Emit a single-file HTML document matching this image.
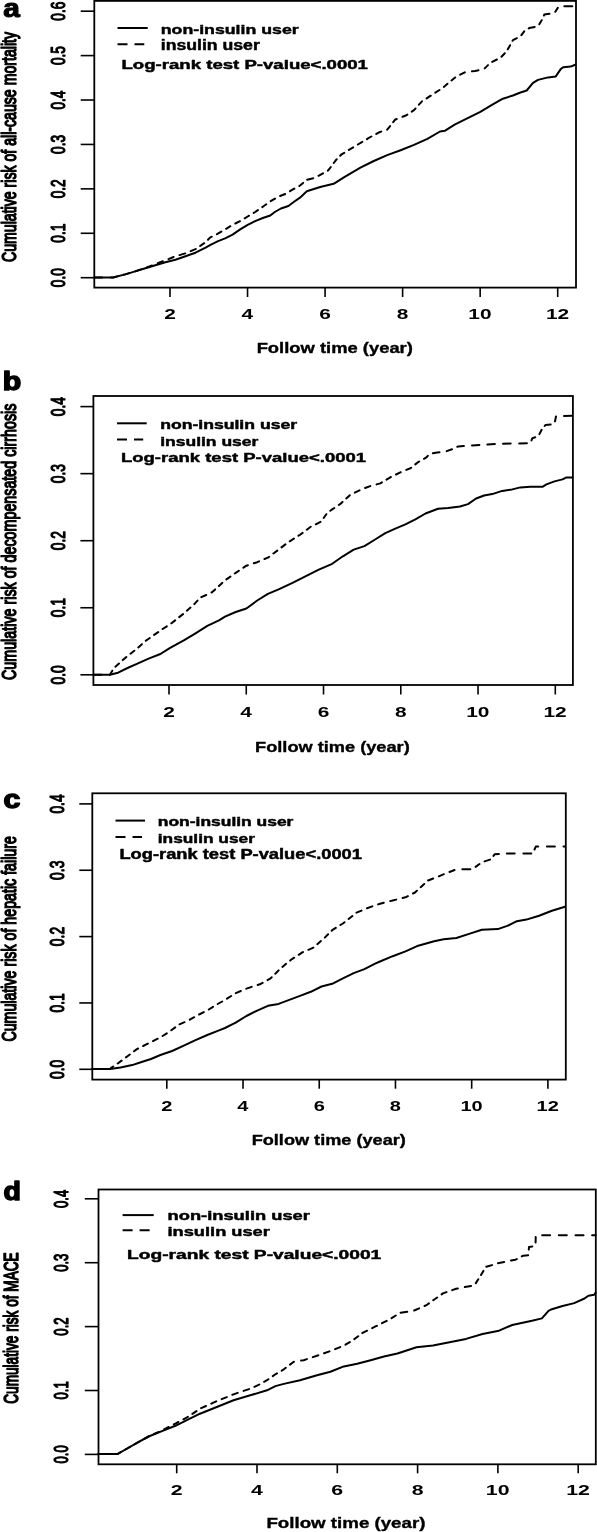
<!DOCTYPE html>
<html><head><meta charset="utf-8"><title>Cumulative risk curves</title>
<style>html,body{margin:0;padding:0;background:#fff;}svg{display:block;}
text{font-family:"Liberation Sans", Arial, Helvetica, sans-serif;fill:#000;}</style></head>
<body><svg width="597" height="1532" viewBox="0 0 597 1532">
<rect x="0" y="0" width="597" height="1532" fill="#fff"/>
<rect x="94.3" y="0.9" width="481.70" height="286.70" fill="none" stroke="#000" stroke-width="1.8"/>
<line stroke="#000" x1="80.70" y1="277.70" x2="94.30" y2="277.70" stroke-width="1.6"/>
<text transform="translate(64.59,287.22) scale(1.4460,1) rotate(-90)" font-size="13.70" style="font-weight:normal;stroke:#000;stroke-width:0.85px;stroke-linejoin:round;">0.0</text>
<line stroke="#000" x1="80.70" y1="233.28" x2="94.30" y2="233.28" stroke-width="1.6"/>
<text transform="translate(64.59,242.73) scale(1.4460,1) rotate(-90)" font-size="13.70" style="font-weight:normal;stroke:#000;stroke-width:0.85px;stroke-linejoin:round;">0.1</text>
<line stroke="#000" x1="80.70" y1="188.86" x2="94.30" y2="188.86" stroke-width="1.6"/>
<text transform="translate(64.59,198.31) scale(1.4460,1) rotate(-90)" font-size="13.70" style="font-weight:normal;stroke:#000;stroke-width:0.85px;stroke-linejoin:round;">0.2</text>
<line stroke="#000" x1="80.70" y1="144.44" x2="94.30" y2="144.44" stroke-width="1.6"/>
<text transform="translate(64.59,153.96) scale(1.4460,1) rotate(-90)" font-size="13.70" style="font-weight:normal;stroke:#000;stroke-width:0.85px;stroke-linejoin:round;">0.3</text>
<line stroke="#000" x1="80.70" y1="100.02" x2="94.30" y2="100.02" stroke-width="1.6"/>
<text transform="translate(64.59,109.61) scale(1.4460,1) rotate(-90)" font-size="13.70" style="font-weight:normal;stroke:#000;stroke-width:0.85px;stroke-linejoin:round;">0.4</text>
<line stroke="#000" x1="80.70" y1="55.60" x2="94.30" y2="55.60" stroke-width="1.6"/>
<text transform="translate(64.59,65.12) scale(1.4460,1) rotate(-90)" font-size="13.70" style="font-weight:normal;stroke:#000;stroke-width:0.85px;stroke-linejoin:round;">0.5</text>
<line stroke="#000" x1="80.70" y1="11.18" x2="94.30" y2="11.18" stroke-width="1.6"/>
<text transform="translate(64.59,20.70) scale(1.4460,1) rotate(-90)" font-size="13.70" style="font-weight:normal;stroke:#000;stroke-width:0.85px;stroke-linejoin:round;">0.6</text>
<line stroke="#000" x1="170.00" y1="287.60" x2="170.00" y2="297.00" stroke-width="1.6"/>
<text transform="translate(164.25,318.80) scale(1.3541,1)" font-size="15.43" style="font-weight:bold;">2</text>
<line stroke="#000" x1="247.54" y1="287.60" x2="247.54" y2="297.00" stroke-width="1.6"/>
<text transform="translate(241.59,318.80) scale(1.3541,1)" font-size="15.43" style="font-weight:bold;">4</text>
<line stroke="#000" x1="325.08" y1="287.60" x2="325.08" y2="297.00" stroke-width="1.6"/>
<text transform="translate(319.23,318.80) scale(1.3541,1)" font-size="15.43" style="font-weight:bold;">6</text>
<line stroke="#000" x1="402.62" y1="287.60" x2="402.62" y2="297.00" stroke-width="1.6"/>
<text transform="translate(396.77,318.80) scale(1.3541,1)" font-size="15.43" style="font-weight:bold;">8</text>
<line stroke="#000" x1="480.16" y1="287.60" x2="480.16" y2="297.00" stroke-width="1.6"/>
<text transform="translate(468.36,318.80) scale(1.3541,1)" font-size="15.43" style="font-weight:bold;">10</text>
<line stroke="#000" x1="557.70" y1="287.60" x2="557.70" y2="297.00" stroke-width="1.6"/>
<text transform="translate(545.90,318.80) scale(1.3541,1)" font-size="15.43" style="font-weight:bold;">12</text>
<text transform="translate(15.91,262.01) scale(1.3865,1) rotate(-90)" font-size="14.14" style="font-weight:normal;stroke:#000;stroke-width:1.00px;stroke-linejoin:round;">Cumulative risk of all-cause mortality</text>
<text transform="translate(256.64,353.38) scale(1.2781,1)" font-size="14.38" style="font-weight:bold;stroke:#000;stroke-width:0.35px;stroke-linejoin:round;">Follow time (year)</text>
<line stroke="#000" x1="117.50" y1="28.00" x2="147.70" y2="28.00" stroke-width="2.0"/>
<line stroke="#000" x1="117.50" y1="44.30" x2="144.30" y2="44.30" stroke-width="2.0" stroke-dasharray="10 7"/>
<text transform="translate(160.75,33.52) scale(1.3090,1)" font-size="13.56" style="font-weight:bold;stroke:#000;stroke-width:0.45px;stroke-linejoin:round;">non-insulin user</text>
<text transform="translate(160.75,50.38) scale(1.2587,1)" font-size="14.04" style="font-weight:bold;stroke:#000;stroke-width:0.45px;stroke-linejoin:round;">insulin user</text>
<text transform="translate(121.51,68.68) scale(1.4081,1)" font-size="13.22" style="font-weight:bold;stroke:#000;stroke-width:0.45px;stroke-linejoin:round;">Log-rank test P-value&lt;.0001</text>
<text transform="translate(3.24,16.75) scale(1.1599,1)" font-size="25.74" style="font-weight:bold;stroke:#000;stroke-width:1.10px;stroke-linejoin:round;">a</text>
<path stroke="#000" d="M94.3,277.5 L113.0,277.5 L125.2,274.4 L135.2,271.4 L145.3,268.3 L155.3,265.3 L165.4,262.3 L175.4,259.7 L185.5,256.3 L195.5,252.7 L205.6,247.6 L210.0,245.2 L217.5,241.4 L225.1,238.4 L232.6,234.6 L240.2,229.4 L247.7,224.8 L255.2,221.1 L262.8,218.0 L270.3,215.5 L274.8,212.0 L280.9,208.5 L288.4,206.0 L294.4,201.5 L300.0,197.7 L306.8,191.3 L320.2,187.0 L333.6,183.8 L344.3,177.1 L360.4,167.7 L373.8,161.0 L387.2,155.1 L400.6,150.3 L414.0,144.9 L427.4,138.8 L440.0,131.5 L445.1,130.7 L455.1,124.4 L467.7,118.1 L480.3,111.8 L492.8,104.3 L502.9,98.7 L512.9,95.5 L520.5,92.5 L526.7,90.5 L533.0,82.9 L538.0,79.9 L548.1,77.4 L555.6,76.6 L560.7,69.1 L563.2,67.3 L570.7,66.6 L575.2,64.8" fill="none" stroke-width="2.0" stroke-linejoin="round" stroke-linecap="round"/>
<path stroke="#000" d="M94.3,277.5 L102.3,277.5 M111.0,277.5 L113.0,277.5 L117.4,276.4 M123.7,274.7 L125.0,274.4 L129.4,273.1 M135.5,271.2 L141.0,269.4 M146.8,267.4 L152.1,265.5 M157.8,263.3 L162.9,261.3 M168.5,259.1 L173.6,257.0 M179.5,255.1 L185.2,253.4 M190.7,251.2 L195.5,249.2 L195.7,249.0 M200.1,246.0 L204.2,243.2 M208.0,239.7 L210.0,237.6 L211.8,236.7 M216.9,234.2 L217.5,233.9 L221.3,231.6 M226.1,228.8 L230.4,226.2 M235.3,223.5 L240.0,221.2 M244.7,218.3 L247.7,216.5 L249.0,215.7 M253.7,212.9 L255.2,212.0 L257.9,210.1 M262.3,207.1 L262.8,206.7 L266.3,204.3 M270.7,201.2 L275.0,198.6 M280.1,196.0 L285.2,194.0 M290.0,191.2 L292.9,189.4 L294.4,188.6 M299.3,186.0 L300.0,185.6 L303.1,182.9 M307.2,179.7 L313.2,178.3 M318.5,175.8 L323.0,173.3 M327.8,170.6 L328.2,170.4 L330.8,167.0 M333.8,163.0 L336.3,159.7 L336.7,159.3 M340.2,155.7 L341.6,154.3 L344.2,152.8 M348.9,149.9 L353.2,147.4 M357.9,144.5 L362.3,141.9 M367.0,139.1 L368.4,138.2 L371.4,136.5 M376.3,133.9 L379.2,132.3 L381.2,131.6 M387.2,129.7 L387.2,129.7 L390.1,126.1 M393.2,122.1 L395.3,119.5 L396.8,119.0 M402.5,116.8 L406.0,115.5 L407.3,114.6 M411.8,111.6 L414.0,110.1 L415.5,108.5 M418.9,104.7 L422.0,101.3 L422.0,101.3 M426.6,98.4 L430.0,96.2 L430.8,95.7 M435.3,92.7 L439.5,90.0 M443.8,86.9 L447.5,83.8 M451.5,80.4 L455.1,77.4 L455.2,77.4 M460.2,74.7 L464.8,72.3 M472.0,71.3 L475.2,70.9 L478.5,70.2 M484.7,68.4 L488.0,65.1 M492.2,61.9 L496.9,59.5 M501.5,56.7 L504.8,53.3 M507.8,49.3 L510.1,45.2 M512.6,40.8 L512.9,40.2 L516.9,38.2 M521.4,35.2 L524.2,31.4 M528.7,28.5 L529.2,28.1 L534.7,27.0 M539.3,24.2 L541.7,20.2 M543.9,15.5 L544.3,14.6 L549.5,13.8 M555.3,11.8 L557.8,7.9 M564.3,6.3 L572.3,6.3" fill="none" stroke-width="2.0" stroke-linejoin="round" stroke-linecap="round"/>
<rect x="93.4" y="396.0" width="479.50" height="289.00" fill="none" stroke="#000" stroke-width="1.8"/>
<line stroke="#000" x1="80.40" y1="674.80" x2="93.40" y2="674.80" stroke-width="1.6"/>
<text transform="translate(64.50,684.43) scale(1.4219,1) rotate(-90)" font-size="13.85" style="font-weight:normal;stroke:#000;stroke-width:0.85px;stroke-linejoin:round;">0.0</text>
<line stroke="#000" x1="80.40" y1="607.75" x2="93.40" y2="607.75" stroke-width="1.6"/>
<text transform="translate(64.50,617.31) scale(1.4219,1) rotate(-90)" font-size="13.85" style="font-weight:normal;stroke:#000;stroke-width:0.85px;stroke-linejoin:round;">0.1</text>
<line stroke="#000" x1="80.40" y1="540.70" x2="93.40" y2="540.70" stroke-width="1.6"/>
<text transform="translate(64.50,550.26) scale(1.4219,1) rotate(-90)" font-size="13.85" style="font-weight:normal;stroke:#000;stroke-width:0.85px;stroke-linejoin:round;">0.2</text>
<line stroke="#000" x1="80.40" y1="473.65" x2="93.40" y2="473.65" stroke-width="1.6"/>
<text transform="translate(64.50,483.28) scale(1.4219,1) rotate(-90)" font-size="13.85" style="font-weight:normal;stroke:#000;stroke-width:0.85px;stroke-linejoin:round;">0.3</text>
<line stroke="#000" x1="80.40" y1="406.60" x2="93.40" y2="406.60" stroke-width="1.6"/>
<text transform="translate(64.50,416.30) scale(1.4219,1) rotate(-90)" font-size="13.85" style="font-weight:normal;stroke:#000;stroke-width:0.85px;stroke-linejoin:round;">0.4</text>
<line stroke="#000" x1="169.00" y1="685.00" x2="169.00" y2="694.50" stroke-width="1.6"/>
<text transform="translate(163.25,716.80) scale(1.3927,1)" font-size="15.00" style="font-weight:bold;">2</text>
<line stroke="#000" x1="246.26" y1="685.00" x2="246.26" y2="694.50" stroke-width="1.6"/>
<text transform="translate(240.31,716.80) scale(1.3927,1)" font-size="15.00" style="font-weight:bold;">4</text>
<line stroke="#000" x1="323.52" y1="685.00" x2="323.52" y2="694.50" stroke-width="1.6"/>
<text transform="translate(317.67,716.80) scale(1.3927,1)" font-size="15.00" style="font-weight:bold;">6</text>
<line stroke="#000" x1="400.78" y1="685.00" x2="400.78" y2="694.50" stroke-width="1.6"/>
<text transform="translate(394.93,716.80) scale(1.3927,1)" font-size="15.00" style="font-weight:bold;">8</text>
<line stroke="#000" x1="478.04" y1="685.00" x2="478.04" y2="694.50" stroke-width="1.6"/>
<text transform="translate(466.24,716.80) scale(1.3927,1)" font-size="15.00" style="font-weight:bold;">10</text>
<line stroke="#000" x1="555.30" y1="685.00" x2="555.30" y2="694.50" stroke-width="1.6"/>
<text transform="translate(543.50,716.80) scale(1.3927,1)" font-size="15.00" style="font-weight:bold;">12</text>
<text transform="translate(15.91,680.02) scale(1.3716,1) rotate(-90)" font-size="14.31" style="font-weight:normal;stroke:#000;stroke-width:1.00px;stroke-linejoin:round;">Cumulative risk of decompensated cirrhosis</text>
<text transform="translate(255.04,751.62) scale(1.2371,1)" font-size="14.73" style="font-weight:bold;stroke:#000;stroke-width:0.35px;stroke-linejoin:round;">Follow time (year)</text>
<line stroke="#000" x1="117.00" y1="423.30" x2="146.70" y2="423.30" stroke-width="2.0"/>
<line stroke="#000" x1="117.00" y1="439.60" x2="143.20" y2="439.60" stroke-width="2.0" stroke-dasharray="10 7"/>
<text transform="translate(160.18,428.97) scale(1.3903,1)" font-size="12.67" style="font-weight:bold;stroke:#000;stroke-width:0.45px;stroke-linejoin:round;">non-insulin user</text>
<text transform="translate(160.17,445.77) scale(1.3242,1)" font-size="13.22" style="font-weight:bold;stroke:#000;stroke-width:0.45px;stroke-linejoin:round;">insulin user</text>
<text transform="translate(120.91,462.47) scale(1.3723,1)" font-size="13.49" style="font-weight:bold;stroke:#000;stroke-width:0.45px;stroke-linejoin:round;">Log-rank test P-value&lt;.0001</text>
<text transform="translate(2.77,390.35) scale(1.1866,1)" font-size="25.48" style="font-weight:bold;stroke:#000;stroke-width:1.50px;stroke-linejoin:round;">b</text>
<path stroke="#000" d="M93.4,674.8 L109.9,674.8 L118.1,672.7 L127.5,668.0 L136.9,663.8 L148.6,658.6 L160.4,654.0 L169.7,648.1 L183.8,640.4 L195.5,633.3 L207.3,625.8 L219.0,620.4 L225.0,616.6 L235.7,612.0 L246.4,608.5 L257.2,600.5 L267.9,593.8 L278.6,589.3 L292.0,583.1 L305.4,576.4 L318.8,569.7 L332.2,563.8 L342.9,556.3 L353.7,549.6 L364.4,546.1 L375.1,539.5 L385.3,533.1 L395.3,528.6 L405.4,524.3 L415.4,519.3 L425.5,513.5 L438.0,508.7 L448.1,508.0 L458.1,506.7 L460.0,506.5 L468.0,504.1 L476.1,498.5 L484.1,495.5 L492.2,494.1 L502.2,490.9 L512.3,489.4 L520.3,487.4 L530.4,486.8 L542.4,486.8 L546.4,484.4 L554.5,481.4 L562.5,479.4 L566.5,477.4 L572.6,477.4" fill="none" stroke-width="2.0" stroke-linejoin="round" stroke-linecap="round"/>
<path stroke="#000" d="M93.4,674.8 L101.4,674.8 M109.9,674.7 L112.3,670.7 M115.4,666.7 L119.0,663.6 M122.8,660.1 L125.2,657.9 L126.4,657.0 M130.5,653.7 L134.3,650.7 M138.3,647.4 L141.9,644.2 M145.8,640.8 L146.3,640.4 L149.8,638.0 M154.1,634.9 L158.2,632.1 M162.6,629.0 L166.8,626.3 M171.3,623.3 L172.1,622.8 L175.1,620.4 M179.2,617.1 L183.0,614.1 M186.9,610.7 L190.5,607.6 M194.3,604.1 L197.5,600.6 M201.3,597.2 L206.2,595.0 M211.5,592.5 L212.0,592.3 L215.1,589.4 M218.9,586.0 L222.4,582.8 M226.4,579.4 L230.4,576.6 M234.8,573.5 L235.7,572.9 L238.9,570.7 M243.4,567.7 L246.4,565.7 L247.9,565.2 M253.8,563.3 L257.2,562.2 L259.1,561.4 M264.5,559.0 L267.9,557.6 L269.2,556.7 M273.4,553.5 L277.3,550.6 M281.5,547.4 L285.4,544.4 M289.7,541.3 L293.9,538.6 M298.5,535.7 L300.0,534.8 L302.6,532.9 M306.8,529.7 L310.7,526.8 M315.8,524.3 L320.5,521.9 M323.7,518.0 L326.3,514.2 M330.3,510.8 L332.2,509.4 L334.3,508.0 M338.8,505.0 L340.0,504.2 L342.5,501.9 M346.3,498.4 L349.8,495.2 M354.8,492.6 L359.5,490.3 M365.1,488.0 L370.2,486.1 L370.3,486.1 M376.6,484.4 L380.3,483.4 L381.9,482.4 M386.5,479.6 L390.3,477.3 L390.9,477.0 M396.0,474.5 L400.4,472.3 L400.8,472.2 M406.3,469.9 L410.4,468.3 L411.2,467.7 M415.3,464.4 L417.9,462.3 L419.2,461.5 M424.0,458.8 L426.7,457.2 L427.8,455.8 M432.9,453.2 L435.5,452.7 L439.5,452.2 M446.7,451.1 L452.0,449.3 M457.3,446.8 L458.1,446.4 L463.9,445.9 M472.0,445.4 L479.4,445.0 M487.4,444.6 L494.8,444.1 M503.0,443.7 L510.7,443.6 M519.2,443.4 L526.9,443.3 M531.5,440.4 L532.4,438.2 L535.2,437.3 M539.4,434.1 L541.4,430.2 L541.6,429.9 M544.7,426.0 L545.4,425.1 L550.7,424.5 M555.0,421.4 L556.0,416.5 M564.0,415.9 L571.7,415.7" fill="none" stroke-width="2.0" stroke-linejoin="round" stroke-linecap="round"/>
<rect x="92.3" y="793.3" width="473.50" height="286.30" fill="none" stroke="#000" stroke-width="1.8"/>
<line stroke="#000" x1="79.30" y1="1069.30" x2="92.30" y2="1069.30" stroke-width="1.6"/>
<text transform="translate(63.88,1078.93) scale(1.4693,1) rotate(-90)" font-size="13.85" style="font-weight:normal;stroke:#000;stroke-width:0.85px;stroke-linejoin:round;">0.0</text>
<line stroke="#000" x1="79.30" y1="1002.95" x2="92.30" y2="1002.95" stroke-width="1.6"/>
<text transform="translate(63.88,1012.51) scale(1.4693,1) rotate(-90)" font-size="13.85" style="font-weight:normal;stroke:#000;stroke-width:0.85px;stroke-linejoin:round;">0.1</text>
<line stroke="#000" x1="79.30" y1="936.60" x2="92.30" y2="936.60" stroke-width="1.6"/>
<text transform="translate(63.88,946.16) scale(1.4693,1) rotate(-90)" font-size="13.85" style="font-weight:normal;stroke:#000;stroke-width:0.85px;stroke-linejoin:round;">0.2</text>
<line stroke="#000" x1="79.30" y1="870.25" x2="92.30" y2="870.25" stroke-width="1.6"/>
<text transform="translate(63.88,879.88) scale(1.4693,1) rotate(-90)" font-size="13.85" style="font-weight:normal;stroke:#000;stroke-width:0.85px;stroke-linejoin:round;">0.3</text>
<line stroke="#000" x1="79.30" y1="803.90" x2="92.30" y2="803.90" stroke-width="1.6"/>
<text transform="translate(63.88,813.60) scale(1.4693,1) rotate(-90)" font-size="13.85" style="font-weight:normal;stroke:#000;stroke-width:0.85px;stroke-linejoin:round;">0.4</text>
<line stroke="#000" x1="166.80" y1="1079.60" x2="166.80" y2="1088.70" stroke-width="1.6"/>
<text transform="translate(161.30,1111.00) scale(1.3333,1)" font-size="15.00" style="font-weight:bold;">2</text>
<line stroke="#000" x1="243.02" y1="1079.60" x2="243.02" y2="1088.70" stroke-width="1.6"/>
<text transform="translate(237.32,1111.00) scale(1.3333,1)" font-size="15.00" style="font-weight:bold;">4</text>
<line stroke="#000" x1="319.24" y1="1079.60" x2="319.24" y2="1088.70" stroke-width="1.6"/>
<text transform="translate(313.64,1111.00) scale(1.3333,1)" font-size="15.00" style="font-weight:bold;">6</text>
<line stroke="#000" x1="395.46" y1="1079.60" x2="395.46" y2="1088.70" stroke-width="1.6"/>
<text transform="translate(389.86,1111.00) scale(1.3333,1)" font-size="15.00" style="font-weight:bold;">8</text>
<line stroke="#000" x1="471.68" y1="1079.60" x2="471.68" y2="1088.70" stroke-width="1.6"/>
<text transform="translate(460.38,1111.00) scale(1.3333,1)" font-size="15.00" style="font-weight:bold;">10</text>
<line stroke="#000" x1="547.90" y1="1079.60" x2="547.90" y2="1088.70" stroke-width="1.6"/>
<text transform="translate(536.60,1111.00) scale(1.3333,1)" font-size="15.00" style="font-weight:bold;">12</text>
<text transform="translate(15.90,1041.61) scale(1.3957,1) rotate(-90)" font-size="14.23" style="font-weight:normal;stroke:#000;stroke-width:1.00px;stroke-linejoin:round;">Cumulative risk of hepatic failure</text>
<text transform="translate(251.65,1144.92) scale(1.2438,1)" font-size="14.59" style="font-weight:bold;stroke:#000;stroke-width:0.35px;stroke-linejoin:round;">Follow time (year)</text>
<line stroke="#000" x1="115.50" y1="820.60" x2="145.00" y2="820.60" stroke-width="2.0"/>
<line stroke="#000" x1="115.50" y1="837.00" x2="142.00" y2="837.00" stroke-width="2.0" stroke-dasharray="10 7"/>
<text transform="translate(157.80,826.27) scale(1.4063,1)" font-size="12.40" style="font-weight:bold;stroke:#000;stroke-width:0.45px;stroke-linejoin:round;">non-insulin user</text>
<text transform="translate(157.79,842.88) scale(1.3243,1)" font-size="13.08" style="font-weight:bold;stroke:#000;stroke-width:0.45px;stroke-linejoin:round;">insulin user</text>
<text transform="translate(119.42,859.38) scale(1.3297,1)" font-size="13.77" style="font-weight:bold;stroke:#000;stroke-width:0.45px;stroke-linejoin:round;">Log-rank test P-value&lt;.0001</text>
<text transform="translate(3.46,807.85) scale(1.1611,1)" font-size="26.11" style="font-weight:bold;stroke:#000;stroke-width:1.50px;stroke-linejoin:round;">c</text>
<path stroke="#000" d="M92.3,1069.1 L109.9,1069.1 L120.5,1067.4 L132.2,1065.1 L141.6,1062.0 L151.0,1059.0 L160.4,1055.0 L172.1,1051.0 L183.8,1045.6 L195.5,1040.2 L207.3,1035.0 L219.0,1030.4 L225.0,1028.0 L235.7,1022.7 L246.4,1016.0 L257.2,1010.6 L267.9,1005.8 L278.6,1003.9 L289.3,999.9 L300.0,995.9 L310.8,991.8 L321.5,986.5 L332.2,983.8 L342.9,978.4 L353.7,973.1 L364.4,969.1 L375.1,963.7 L380.0,961.5 L392.7,956.2 L405.5,951.4 L418.2,945.7 L434.1,941.2 L443.7,939.3 L456.4,938.0 L469.1,933.9 L481.8,929.8 L497.8,929.1 L507.3,925.9 L516.9,921.2 L526.4,919.6 L539.1,915.7 L551.9,910.7 L565.0,906.8" fill="none" stroke-width="2.0" stroke-linejoin="round" stroke-linecap="round"/>
<path stroke="#000" d="M92.3,1069.1 L100.3,1069.1 M109.0,1069.1 L109.9,1069.1 L111.1,1067.9 L113.2,1066.5 M117.7,1063.5 L118.1,1063.2 L121.6,1060.6 M125.9,1057.4 L127.5,1056.2 L129.8,1054.5 M134.0,1051.3 L136.9,1049.1 L138.1,1048.5 M143.2,1046.0 L146.3,1044.4 L147.9,1043.6 M153.0,1041.1 L157.7,1038.7 M162.6,1036.0 L166.8,1033.3 M171.3,1030.3 L175.2,1027.4 M179.5,1024.3 L184.5,1022.2 M189.8,1019.7 L194.2,1017.2 M199.1,1014.5 L203.8,1012.1 M208.8,1009.5 L213.0,1006.8 M217.7,1004.0 L222.2,1001.5 M227.0,998.7 L231.2,996.0 M235.8,993.1 L240.8,991.0 M246.3,988.7 L246.4,988.6 L251.7,986.9 M257.7,985.0 L259.8,984.3 L262.6,982.8 M267.5,980.1 L270.6,978.4 L271.7,977.3 M275.3,973.7 L278.6,970.4 M282.4,966.9 L286.1,963.8 M290.2,960.6 L292.0,959.1 L294.2,957.7 M298.7,954.8 L302.7,952.2 L303.0,952.1 M308.4,949.8 L313.4,947.6 M317.3,944.2 L320.9,941.1 M324.8,937.6 L328.1,934.3 M331.7,930.7 L332.2,930.2 L335.8,927.9 M340.4,925.0 L342.9,923.5 L344.5,922.2 M348.6,919.0 L352.4,916.0 M356.5,912.7 L361.5,910.6 M366.9,908.2 L367.0,908.2 L372.3,906.4 M378.1,904.4 L380.0,903.7 L383.8,902.7 M390.2,901.1 L392.7,900.5 L396.2,899.6 M402.6,898.0 L405.5,897.3 L407.9,896.1 M413.0,893.5 L415.0,892.5 L416.9,890.7 M420.7,887.2 L424.2,884.0 M428.1,880.5 L433.2,878.5 M438.8,876.3 L440.5,875.6 L443.9,874.2 M449.5,872.0 L454.6,870.0 M462.3,869.3 L470.3,869.3 M475.6,866.9 L479.5,864.0 M484.6,861.4 L490.0,859.6 M493.5,855.9 L494.6,854.3 L498.9,854.0 M506.8,853.4 L507.3,853.4 L514.7,853.4 M523.4,853.4 L531.3,853.4 M534.5,849.5 L535.9,846.4 L538.2,846.4 M546.9,846.4 L554.9,846.4 M563.5,846.4 L565.0,846.4" fill="none" stroke-width="2.0" stroke-linejoin="round" stroke-linecap="round"/>
<rect x="98.5" y="1189.5" width="497.30" height="274.80" fill="none" stroke="#000" stroke-width="1.8"/>
<line stroke="#000" x1="84.80" y1="1454.40" x2="98.50" y2="1454.40" stroke-width="1.6"/>
<text transform="translate(67.84,1463.50) scale(1.5477,1) rotate(-90)" font-size="13.09" style="font-weight:normal;stroke:#000;stroke-width:0.85px;stroke-linejoin:round;">0.0</text>
<line stroke="#000" x1="84.80" y1="1390.50" x2="98.50" y2="1390.50" stroke-width="1.6"/>
<text transform="translate(67.84,1399.53) scale(1.5477,1) rotate(-90)" font-size="13.09" style="font-weight:normal;stroke:#000;stroke-width:0.85px;stroke-linejoin:round;">0.1</text>
<line stroke="#000" x1="84.80" y1="1326.60" x2="98.50" y2="1326.60" stroke-width="1.6"/>
<text transform="translate(67.84,1335.63) scale(1.5477,1) rotate(-90)" font-size="13.09" style="font-weight:normal;stroke:#000;stroke-width:0.85px;stroke-linejoin:round;">0.2</text>
<line stroke="#000" x1="84.80" y1="1262.70" x2="98.50" y2="1262.70" stroke-width="1.6"/>
<text transform="translate(67.84,1271.80) scale(1.5477,1) rotate(-90)" font-size="13.09" style="font-weight:normal;stroke:#000;stroke-width:0.85px;stroke-linejoin:round;">0.3</text>
<line stroke="#000" x1="84.80" y1="1198.80" x2="98.50" y2="1198.80" stroke-width="1.6"/>
<text transform="translate(67.84,1207.96) scale(1.5477,1) rotate(-90)" font-size="13.09" style="font-weight:normal;stroke:#000;stroke-width:0.85px;stroke-linejoin:round;">0.4</text>
<line stroke="#000" x1="176.70" y1="1464.30" x2="176.70" y2="1473.30" stroke-width="1.6"/>
<text transform="translate(170.85,1495.00) scale(1.4191,1)" font-size="15.00" style="font-weight:bold;">2</text>
<line stroke="#000" x1="257.00" y1="1464.30" x2="257.00" y2="1473.30" stroke-width="1.6"/>
<text transform="translate(250.93,1495.00) scale(1.4191,1)" font-size="15.00" style="font-weight:bold;">4</text>
<line stroke="#000" x1="337.30" y1="1464.30" x2="337.30" y2="1473.30" stroke-width="1.6"/>
<text transform="translate(331.34,1495.00) scale(1.4191,1)" font-size="15.00" style="font-weight:bold;">6</text>
<line stroke="#000" x1="417.60" y1="1464.30" x2="417.60" y2="1473.30" stroke-width="1.6"/>
<text transform="translate(411.64,1495.00) scale(1.4191,1)" font-size="15.00" style="font-weight:bold;">8</text>
<line stroke="#000" x1="497.90" y1="1464.30" x2="497.90" y2="1473.30" stroke-width="1.6"/>
<text transform="translate(485.87,1495.00) scale(1.4191,1)" font-size="15.00" style="font-weight:bold;">10</text>
<line stroke="#000" x1="578.20" y1="1464.30" x2="578.20" y2="1473.30" stroke-width="1.6"/>
<text transform="translate(566.17,1495.00) scale(1.4191,1)" font-size="15.00" style="font-weight:bold;">12</text>
<text transform="translate(17.84,1403.78) scale(1.5159,1) rotate(-90)" font-size="13.63" style="font-weight:normal;stroke:#000;stroke-width:1.00px;stroke-linejoin:round;">Cumulative risk of MACE</text>
<text transform="translate(266.41,1527.62) scale(1.2838,1)" font-size="14.59" style="font-weight:bold;stroke:#000;stroke-width:0.35px;stroke-linejoin:round;">Follow time (year)</text>
<line stroke="#000" x1="122.60" y1="1215.10" x2="153.70" y2="1215.10" stroke-width="2.0"/>
<line stroke="#000" x1="122.60" y1="1230.20" x2="150.70" y2="1230.20" stroke-width="2.0" stroke-dasharray="10 7"/>
<text transform="translate(167.55,1220.38) scale(1.4773,1)" font-size="12.40" style="font-weight:bold;stroke:#000;stroke-width:0.45px;stroke-linejoin:round;">non-insulin user</text>
<text transform="translate(167.53,1236.48) scale(1.3800,1)" font-size="13.22" style="font-weight:bold;stroke:#000;stroke-width:0.45px;stroke-linejoin:round;">insulin user</text>
<text transform="translate(127.09,1258.58) scale(1.4675,1)" font-size="13.08" style="font-weight:bold;stroke:#000;stroke-width:0.45px;stroke-linejoin:round;">Log-rank test P-value&lt;.0001</text>
<text transform="translate(3.60,1200.35) scale(1.1164,1)" font-size="25.48" style="font-weight:bold;stroke:#000;stroke-width:1.50px;stroke-linejoin:round;">d</text>
<path stroke="#000" d="M98.5,1453.9 L117.8,1453.9 L127.2,1448.5 L137.9,1442.4 L148.6,1436.5 L162.0,1431.1 L175.4,1425.8 L188.8,1419.1 L200.0,1413.7 L216.8,1407.0 L233.5,1400.3 L250.3,1395.3 L267.0,1390.3 L275.4,1386.1 L283.8,1383.9 L300.0,1380.2 L317.0,1375.2 L330.4,1371.7 L343.8,1366.4 L357.2,1363.7 L370.6,1360.2 L384.0,1356.5 L397.4,1353.5 L416.5,1347.2 L433.0,1345.5 L449.5,1342.2 L466.0,1338.9 L482.5,1334.0 L499.0,1330.7 L512.2,1325.0 L532.0,1320.8 L541.9,1318.4 L548.5,1310.9 L551.0,1309.5 L562.6,1306.0 L574.2,1303.1 L584.5,1298.5 L588.4,1295.7 L594.2,1294.7 L595.5,1292.7" fill="none" stroke-width="2.0" stroke-linejoin="round" stroke-linecap="round"/>
<path stroke="#000" d="M98.5,1453.9 L106.5,1453.9 M115.2,1453.9 L117.8,1453.9 L120.8,1452.2 M125.6,1449.4 L127.2,1448.5 L130.0,1446.9 M134.8,1444.2 L137.9,1442.4 L139.3,1441.6 M144.2,1438.9 L148.6,1436.5 L148.7,1436.5 M154.0,1434.0 L158.9,1431.8 M164.1,1429.3 L168.7,1427.0 M173.8,1424.4 L175.4,1423.6 L178.4,1422.0 M183.4,1419.3 L187.9,1416.9 M192.4,1413.9 L196.5,1411.1 M201.1,1408.2 L206.0,1406.0 M211.3,1403.6 L216.2,1401.4 M221.7,1399.1 L226.8,1397.1 M232.4,1394.8 L233.5,1394.4 L237.7,1392.9 M243.6,1390.9 L249.0,1389.1 M254.4,1386.8 L258.6,1384.9 L259.3,1384.5 M264.1,1381.8 L267.0,1380.2 L268.4,1379.2 M272.8,1376.1 L275.4,1374.3 L277.0,1373.4 M281.7,1370.6 L283.8,1369.3 L285.8,1367.8 M290.0,1364.6 L293.8,1361.8 L294.0,1361.8 M301.1,1360.6 L303.6,1360.2 L306.9,1359.1 M312.8,1357.1 L317.0,1355.7 L318.3,1355.3 M324.1,1353.3 L329.5,1351.4 M335.1,1349.2 L340.2,1347.1 M345.5,1344.7 L349.8,1342.1 M354.3,1339.1 L358.2,1336.2 M362.4,1333.0 L362.6,1332.9 L367.1,1330.7 M372.2,1328.1 L376.0,1326.2 L376.9,1325.8 M382.0,1323.2 L386.7,1320.9 M391.6,1318.1 L395.8,1315.5 M400.6,1312.7 L407.3,1311.8 M414.2,1310.5 L419.1,1308.3 M424.6,1306.0 L426.4,1305.2 L428.9,1303.4 M433.2,1300.3 L437.2,1297.5 M441.6,1294.4 L442.9,1293.4 L446.5,1292.1 M452.2,1290.1 L456.1,1288.7 L457.9,1288.4 M464.8,1287.1 L471.1,1286.0 M475.8,1283.1 L478.3,1279.2 M481.0,1274.9 L483.4,1270.9 M486.3,1266.8 L492.0,1265.1 M498.0,1263.3 L499.0,1263.0 L504.2,1262.0 M511.0,1260.6 L515.5,1259.7 L516.8,1259.1 M521.8,1256.4 L523.2,1255.7 L528.2,1255.3 M528.8,1249.6 L529.0,1246.9 L532.3,1246.4 M535.6,1242.5 L535.7,1236.9 M542.2,1235.3 L550.1,1235.3 M558.8,1235.3 L566.8,1235.3 M575.5,1235.3 L583.5,1235.3 M592.1,1235.3 L595.5,1235.3" fill="none" stroke-width="2.0" stroke-linejoin="round" stroke-linecap="round"/>
</svg></body></html>
